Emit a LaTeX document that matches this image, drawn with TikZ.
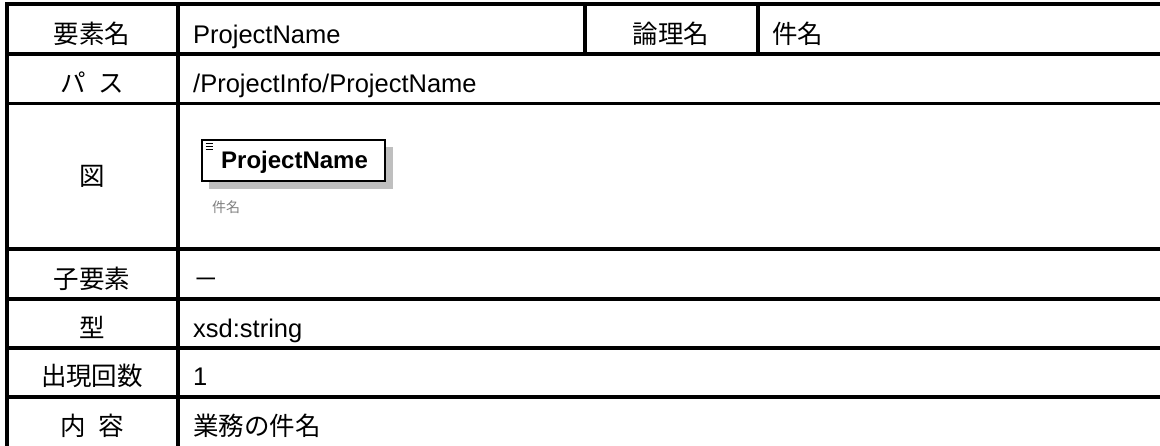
\documentclass[tikz,border=0pt]{standalone}
\usepackage{fontspec}
\setmainfont{Liberation Sans}
\newfontfamily\jpfont{Noto Sans CJK JP}
\tikzset{
  rule/.style={line width=3.5pt},
  keytext/.style={font=\jpfont\fontsize{25.5}{25.5}\selectfont, anchor=base, inner sep=0pt},
  valtext/.style={font=\fontsize{25.5}{25.5}\selectfont, anchor=base west, inner sep=0pt},
  valjp/.style={font=\jpfont\fontsize{25.5}{25.5}\selectfont, anchor=base west, inner sep=0pt},
}

\begin{document}
\begin{tikzpicture}[x=1pt,y=-1pt]
		\useasboundingbox (0,0) rectangle (1160,445);
		\clip (0,0) rectangle (1160,445);
		%%%%% START %%%%%
		\fill[white] (0,0) rectangle (1160,445);
		
		% table rules
		\foreach \y in {4,54,103.5,249,299,348,397}
			\draw[rule] (5.25,\y) -- (1170,\y);
		\draw[rule] (7,2.25) -- (7,460);
		\draw[rule] (178,2.25) -- (178,460);
		\draw[rule] (585,2.25) -- (585,55.75);
		\draw[rule] (758,2.25) -- (758,55.75);
		
		% key column
		\node[keytext] (kname) at (92,43) {要素名};
		\node[keytext] (kpath) at (92,92) {パ\hspace{0.5em}ス};
		\node[keytext] (kfig) at (92,185) {図};
		\node[keytext] (kchild) at (92,288) {子要素};
		\node[keytext] (ktype) at (92,337) {型};
		\node[keytext] (kcount) at (92,385) {出現回数};
		\node[keytext] (kdesc) at (92,435) {内\hspace{0.5em}容};
		\node[keytext] (klogic) at (671,43) {論理名};
		
		% value column
		\node[valtext] (vname) at (193,43) {ProjectName};
		\node[valjp] (vlogic) at (772,43) {件名};
		\node[valtext] (vpath) at (193,92) {/ProjectInfo/ProjectName};
		\node[valjp] (vchild) at (193,288) {－};
		\node[valtext] (vtype) at (193,337) {xsd:string};
		\node[valtext] (vcount) at (193,385) {1};
		\node[valjp] (vdesc) at (193,435) {業務の件名};
		
		% element figure
		\fill[black!25] (209,147) rectangle (393,189);
		\draw[line width=1.8pt, fill=white] (202,140) rectangle (385,181);
		\foreach \y in {143.5,146.5,149.5}
			\draw[line width=1pt] (205.5,\y) -- (213,\y);
		\node[font=\bfseries\fontsize{24}{24}\selectfont, anchor=base west, inner sep=0pt] (elem) at (221,168) {ProjectName};
		\node[font=\jpfont\fontsize{14}{14}\selectfont, text=black!50, anchor=base west, inner sep=0pt] (elemlbl) at (212,212) {件名};
		%%%%% END %%%%%
	\end{tikzpicture}
\end{document}
